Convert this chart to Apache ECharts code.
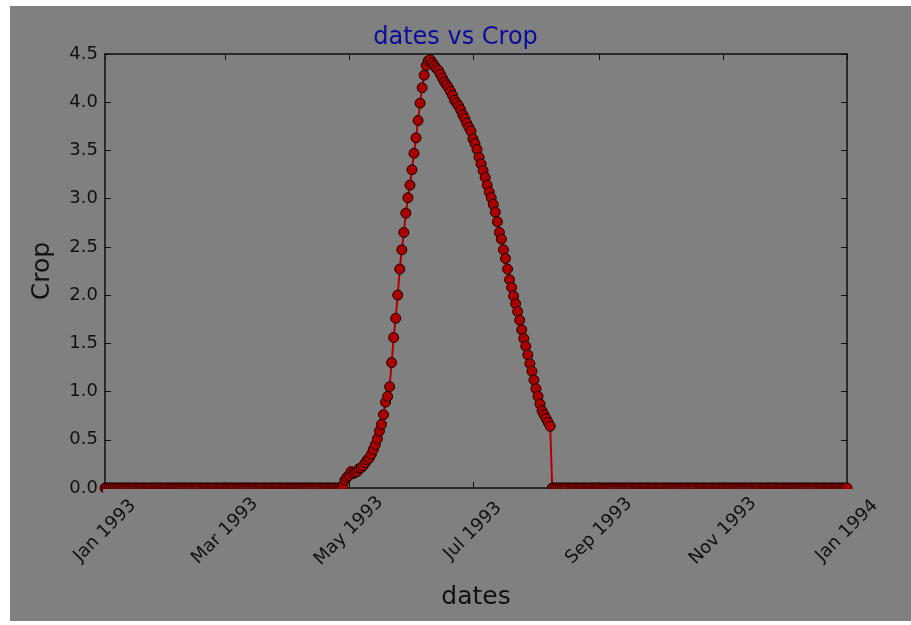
<!DOCTYPE html>
<html>
<head>
<meta charset="utf-8">
<script src="https://cdn.jsdelivr.net/npm/echarts@6/dist/echarts.min.js"></script>
<style>
  html, body { margin: 0; padding: 0; background: #fff; }
  #chart { width: 911px; height: 625px; }
</style>
</head>
<body>
<div id="chart"></div>
<script>
// data
var yearStart = '1993-01-01';
var yearEnd = '1994-01-01';
var seasonStart = '1993-04-28';   // first day the crop is above zero
// daily crop values from seasonStart, the day after the last one is 0 again
var cropSeason = [
  0.02, 0.08, 0.11, 0.13, 0.17, 0.15, 0.16, 0.17, 0.20, 0.21,
  0.23, 0.26, 0.29, 0.31, 0.35, 0.40, 0.45, 0.51, 0.59, 0.66,
  0.76, 0.89, 0.95, 1.05, 1.30, 1.56, 1.76, 2.00, 2.27, 2.47,
  2.65, 2.85, 3.01, 3.14, 3.30, 3.47, 3.63, 3.81, 3.99, 4.15,
  4.28, 4.38, 4.43, 4.44, 4.41, 4.38, 4.35, 4.33, 4.29, 4.25,
  4.21, 4.18, 4.15, 4.11, 4.07, 4.02, 3.99, 3.96, 3.92, 3.87,
  3.83, 3.78, 3.74, 3.70, 3.62, 3.57, 3.51, 3.43, 3.36, 3.29,
  3.22, 3.14, 3.07, 3.01, 2.94, 2.86, 2.76, 2.65, 2.58, 2.47,
  2.38, 2.27, 2.16, 2.08, 1.99, 1.91, 1.83, 1.74, 1.64, 1.55,
  1.47, 1.38, 1.29, 1.21, 1.12, 1.03, 0.95, 0.87, 0.80, 0.76,
  0.72, 0.68, 0.64
];
var tickMonths = ['01', '03', '05', '07', '09', '11'];
var monthNames = ['Jan', 'Feb', 'Mar', 'Apr', 'May', 'Jun', 'Jul', 'Aug', 'Sep', 'Oct', 'Nov', 'Dec'];

// layout
var G = { left: 105, right: 64, top: 54, bottom: 137 };
var W = 911, H = 625;

function dayStr(t) {
  return new Date(t).toISOString().slice(0, 10);
}

var dates = [];
var t0 = Date.parse(yearStart + 'T00:00:00Z');
var t1 = Date.parse(yearEnd + 'T00:00:00Z');
for (var t = t0; t <= t1; t += 86400000) dates.push(dayStr(t));

var sIdx = dates.indexOf(seasonStart);
var crop = dates.map(function (d, i) {
  var k = i - sIdx;
  return (k >= 0 && k < cropSeason.length) ? cropSeason[k] : 0;
});

function isTick(index, value) {
  return value.slice(8) === '01' && tickMonths.indexOf(value.slice(5, 7)) >= 0;
}

function fmtDate(v) {
  return monthNames[+v.slice(5, 7) - 1] + ' ' + v.slice(0, 4);
}

var tickFont = { fontFamily: 'DejaVu Sans', fontSize: 18, color: '#111' };

var xBase = {
  type: 'category',
  data: dates,
  boundaryGap: false,
  axisLine: { show: true, onZero: false, lineStyle: { color: '#111', width: 1.5 } },
  axisTick: { show: true, inside: true, length: 6, interval: isTick, lineStyle: { color: '#111' } },
  splitLine: { show: false }
};

var yBase = {
  type: 'value',
  min: 0,
  max: 4.5,
  interval: 0.5,
  axisLine: { show: true, lineStyle: { color: '#111', width: 1.5 } },
  axisTick: { show: true, inside: true, length: 6, lineStyle: { color: '#111' } },
  splitLine: { show: false }
};

var chart = echarts.init(document.getElementById('chart'), null, { renderer: 'canvas' });

chart.setOption({
  animation: false,
  backgroundColor: '#ffffff',
  title: {
    text: 'dates vs Crop',
    left: 'center',
    top: 21,
    textStyle: { fontFamily: 'DejaVu Sans', fontSize: 24, fontWeight: 'normal', color: '#0c0c9c' }
  },
  graphic: [
    { type: 'rect', z: -100, silent: true,
      shape: { x: 10, y: 6, width: W - 10, height: H - 10 },
      style: { fill: '#808080' } },
    // matplotlib clips markers at the axes edge: hide the lower half of the zero markers
    { type: 'rect', z: 100, silent: true,
      shape: { x: G.left - 2, y: H - G.bottom + 1, width: W - G.left - G.right + 10, height: 6 },
      style: { fill: '#808080' } }
  ],
  grid: { left: G.left, right: G.right, top: G.top, bottom: G.bottom, show: false },
  xAxis: [
    Object.assign({}, xBase, {
      position: 'bottom',
      name: 'dates',
      nameLocation: 'middle',
      nameGap: 97,
      nameTextStyle: { fontFamily: 'DejaVu Sans', fontSize: 25, color: '#111' },
      axisLabel: Object.assign({
        interval: isTick, rotate: 45, margin: 43,
        align: 'center', verticalAlign: 'middle', formatter: fmtDate
      }, tickFont)
    }),
    Object.assign({}, xBase, { position: 'top', axisLabel: { show: false } })
  ],
  yAxis: [
    Object.assign({}, yBase, {
      position: 'left',
      name: 'Crop',
      nameLocation: 'middle',
      nameGap: 50,
      nameTextStyle: { fontFamily: 'DejaVu Sans', fontSize: 25, color: '#111' },
      axisLabel: Object.assign({ margin: 7, formatter: function (v) { return v.toFixed(1); } }, tickFont)
    }),
    Object.assign({}, yBase, { position: 'right', axisLabel: { show: false } })
  ],
  series: [{
    name: 'Crop',
    type: 'line',
    data: crop,
    symbol: 'circle',
    symbolSize: 10,
    showAllSymbol: true,
    lineStyle: { color: '#b00000', width: 2 },
    itemStyle: { color: '#a80000', borderColor: '#1e0000', borderWidth: 1 },
    emphasis: { disabled: true }
  }]
});
</script>
</body>
</html>
